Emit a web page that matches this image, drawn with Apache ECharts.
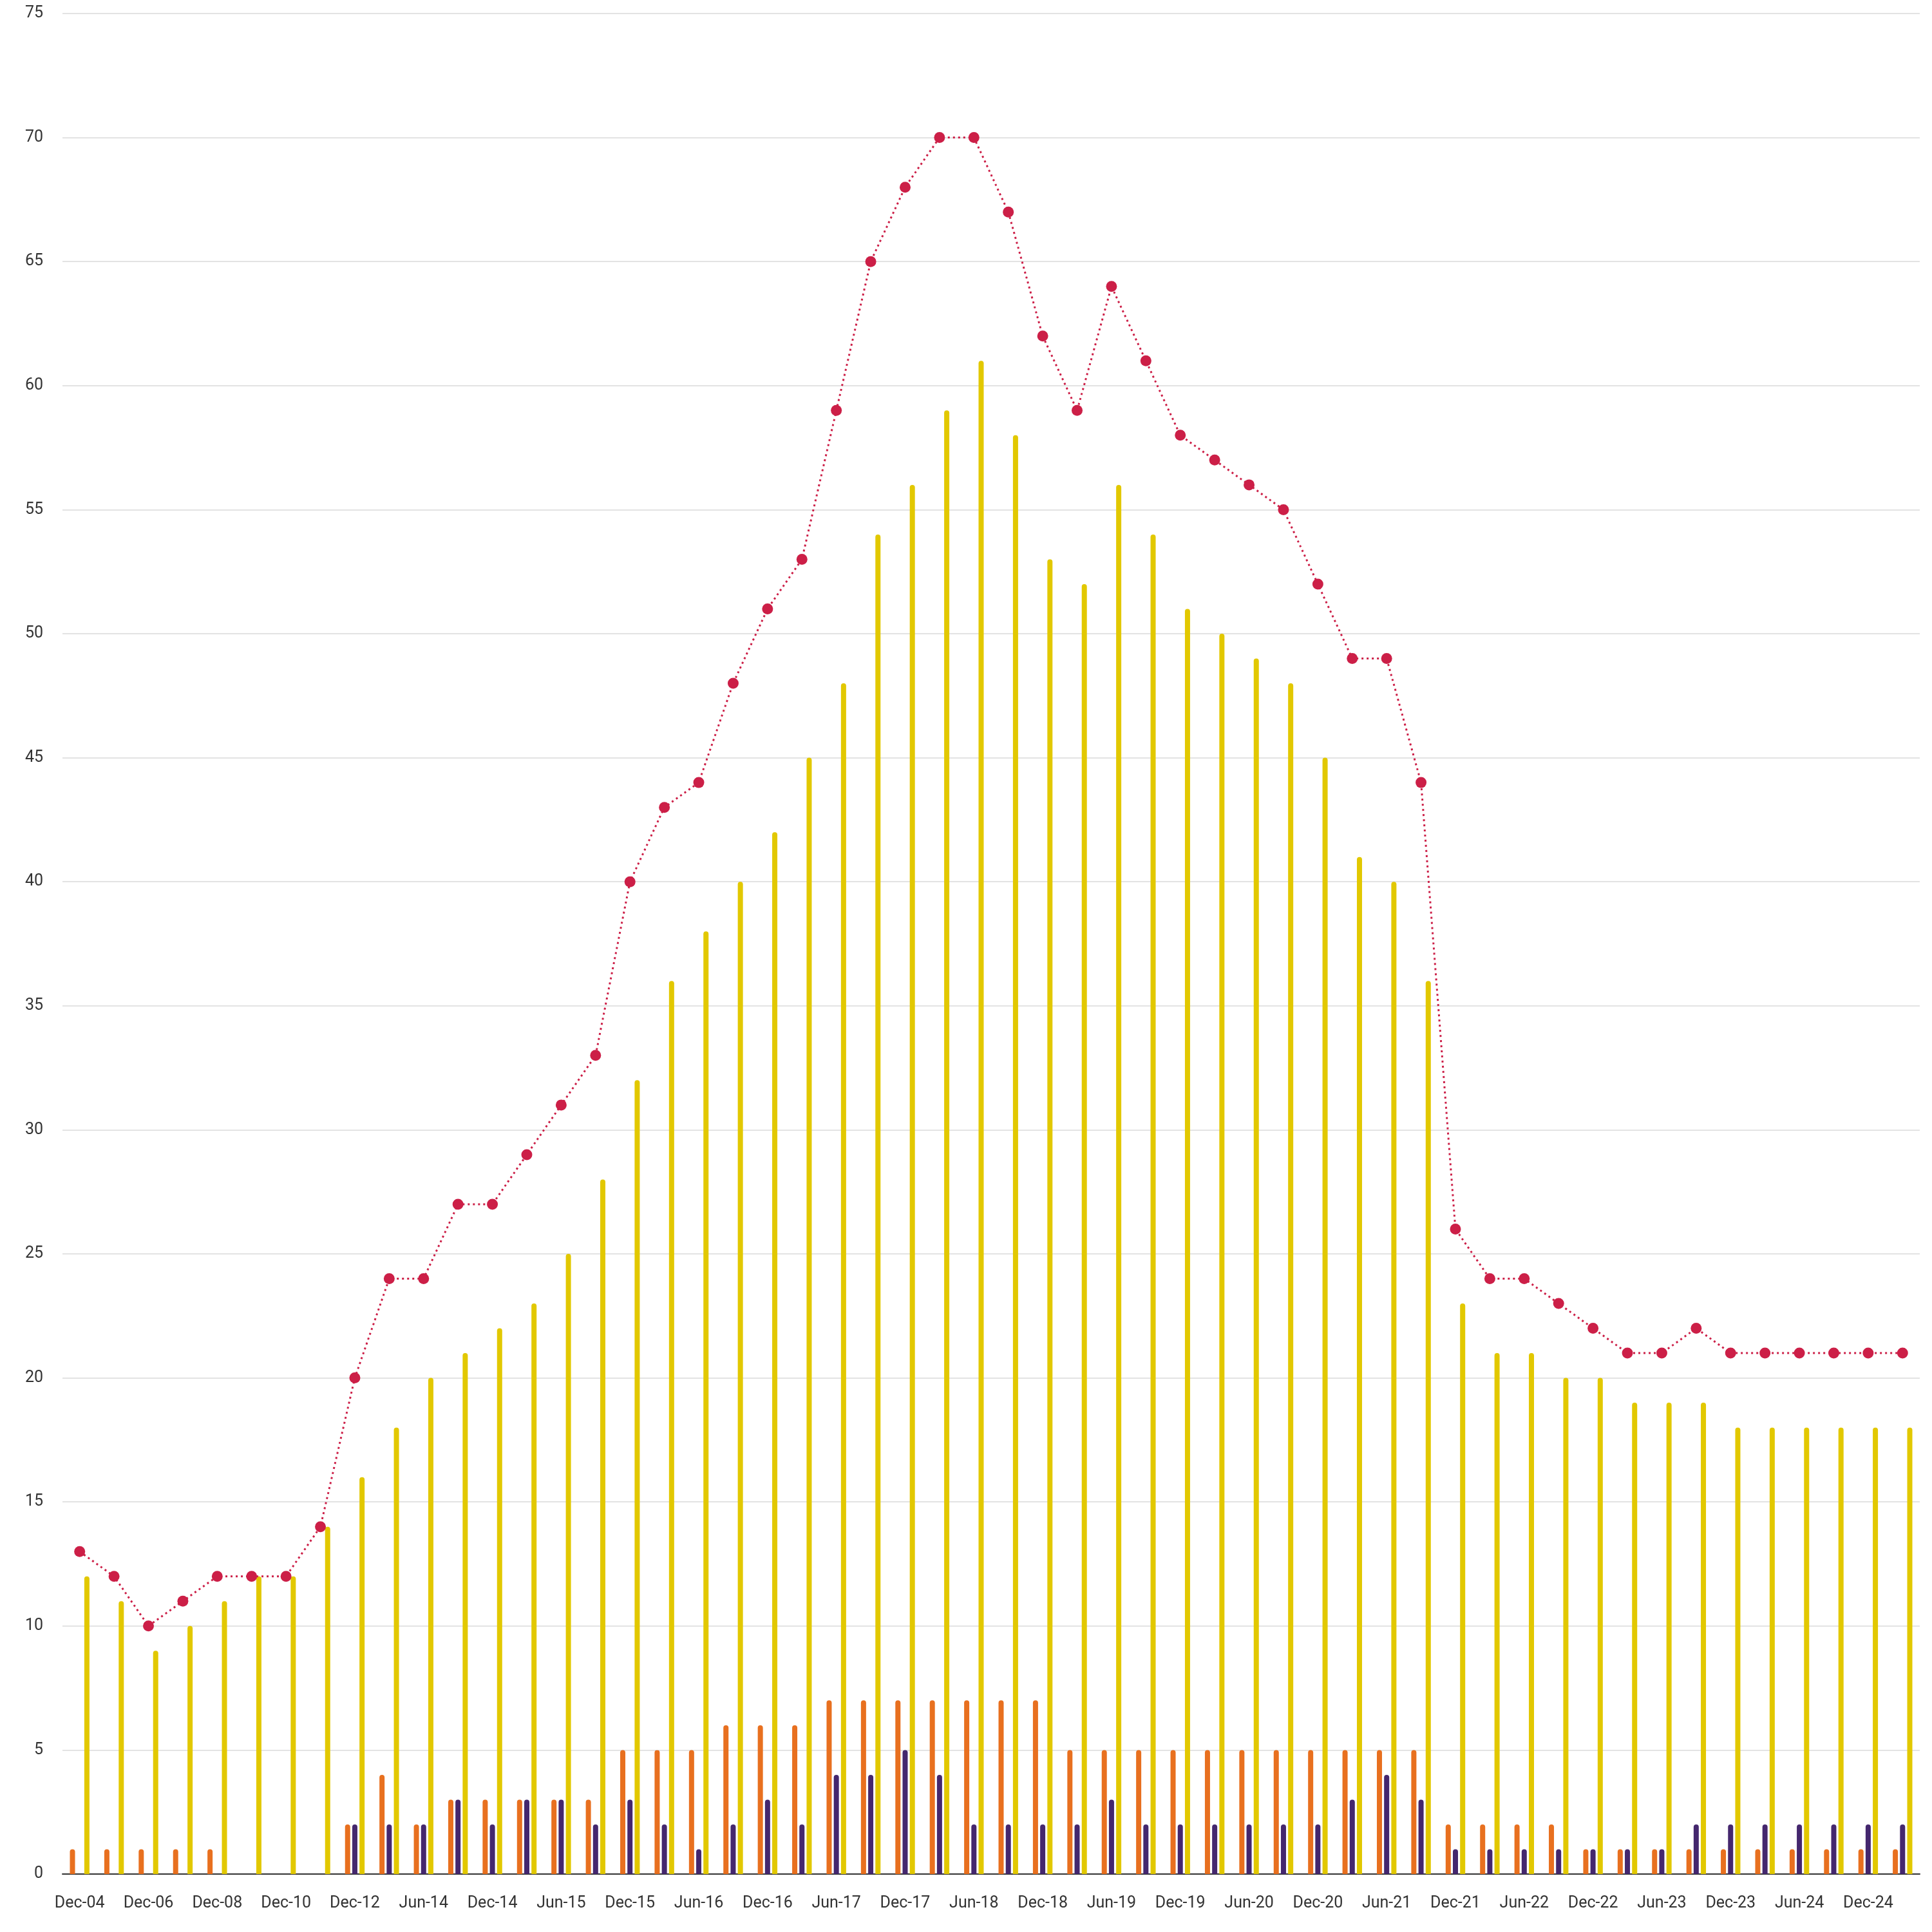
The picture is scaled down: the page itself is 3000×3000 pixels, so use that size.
<!DOCTYPE html>
<html>
<head>
<meta charset="utf-8">
<script src="https://cdn.jsdelivr.net/npm/echarts@6/dist/echarts.min.js"></script>
<style>
  html, body { margin: 0; padding: 0; background: #fff; }
  #chart { width: 3000px; height: 3000px; }
</style>
</head>
<body>
<div id="chart"></div>
<script>
// x-axis categories (annual to Dec-12, then quarterly)
const categories = [
  'Dec-04', 'Dec-05', 'Dec-06', 'Dec-07', 'Dec-08', 'Dec-09', 'Dec-10', 'Dec-11', 'Dec-12', 'Dec-13',
  'Jun-14', 'Sep-14', 'Dec-14', 'Mar-15', 'Jun-15', 'Sep-15', 'Dec-15', 'Mar-16', 'Jun-16', 'Sep-16',
  'Dec-16', 'Mar-17', 'Jun-17', 'Sep-17', 'Dec-17', 'Mar-18', 'Jun-18', 'Sep-18', 'Dec-18', 'Mar-19',
  'Jun-19', 'Sep-19', 'Dec-19', 'Mar-20', 'Jun-20', 'Sep-20', 'Dec-20', 'Mar-21', 'Jun-21', 'Sep-21',
  'Dec-21', 'Mar-22', 'Jun-22', 'Sep-22', 'Dec-22', 'Mar-23', 'Jun-23', 'Sep-23', 'Dec-23', 'Mar-24',
  'Jun-24', 'Sep-24', 'Dec-24', 'Mar-25'
]

// orange bars
const orangeValues = [
  1, 1, 1, 1, 1, 0, 0, 0, 2, 4,
  2, 3, 3, 3, 3, 3, 5, 5, 5, 6,
  6, 6, 7, 7, 7, 7, 7, 7, 7, 5,
  5, 5, 5, 5, 5, 5, 5, 5, 5, 5,
  2, 2, 2, 2, 1, 1, 1, 1, 1, 1,
  1, 1, 1, 1
]

// purple bars
const purpleValues = [
  0, 0, 0, 0, 0, 0, 0, 0, 2, 2,
  2, 3, 2, 3, 3, 2, 3, 2, 1, 2,
  3, 2, 4, 4, 5, 4, 2, 2, 2, 2,
  3, 2, 2, 2, 2, 2, 2, 3, 4, 3,
  1, 1, 1, 1, 1, 1, 1, 2, 2, 2,
  2, 2, 2, 2
]

// yellow bars
const yellowValues = [
  12, 11, 9, 10, 11, 12, 12, 14, 16, 18,
  20, 21, 22, 23, 25, 28, 32, 36, 38, 40,
  42, 45, 48, 54, 56, 59, 61, 58, 53, 52,
  56, 54, 51, 50, 49, 48, 45, 41, 40, 36,
  23, 21, 21, 20, 20, 19, 19, 19, 18, 18,
  18, 18, 18, 18
]

// red dotted line (total)
const totalValues = [
  13, 12, 10, 11, 12, 12, 12, 14, 20, 24,
  24, 27, 27, 29, 31, 33, 40, 43, 44, 48,
  51, 53, 59, 65, 68, 70, 70, 67, 62, 59,
  64, 61, 58, 57, 56, 55, 52, 49, 49, 44,
  26, 24, 24, 23, 22, 21, 21, 22, 21, 21,
  21, 21, 21, 21
]

const chart = echarts.init(document.getElementById('chart'), null, { renderer: 'canvas' })

const barStyle = (color) => ({
  color: color,
  borderRadius: [4, 4, 0, 0],
})

chart.setOption({
  animation: false,
  backgroundColor: '#fff',
  textStyle: { fontFamily: 'Roboto' },
  grid: {
    left: 97,
    right: 19,
    top: 21,
    bottom: 90,
    containLabel: false,
  },
  xAxis: {
    type: 'category',
    data: categories,
    boundaryGap: true,
    axisLine: {
      lineStyle: { color: '#333', width: 2 },
    },
    axisTick: { show: false },
    axisLabel: {
      interval: 1,
      color: '#333',
      fontSize: 25,
      fontFamily: 'Roboto',
      margin: 33,
    },
  },
  yAxis: {
    type: 'value',
    min: 0,
    max: 75,
    interval: 5,
    axisLine: { show: false },
    axisTick: { show: false },
    axisLabel: {
      color: '#333',
      fontSize: 25,
      fontFamily: 'Roboto',
      margin: 30,
    },
    splitLine: {
      lineStyle: { color: '#e3e3e3', width: 2 },
    },
  },
  series: [
    {
      name: 'orange',
      type: 'bar',
      data: orangeValues,
      barWidth: 8,
      itemStyle: barStyle('#e8701f'),
      z: 2,
    },
    {
      name: 'purple',
      type: 'bar',
      data: purpleValues,
      barWidth: 8,
      itemStyle: barStyle('#44276e'),
      z: 2,
    },
    {
      name: 'yellow',
      type: 'bar',
      data: yellowValues,
      barWidth: 8,
      barGap: '40%',
      itemStyle: barStyle('#e2c800'),
      z: 2,
    },
    // total line drawn over the bars
    {
      name: 'total',
      type: 'line',
      data: totalValues,
      symbol: 'circle',
      symbolSize: 17,
      itemStyle: { color: '#cc1f47' },
      lineStyle: {
        color: '#cc1f47',
        width: 3,
        type: [3, 5],
      },
      z: 5,
    },
  ],
})
</script>
</body>
</html>
